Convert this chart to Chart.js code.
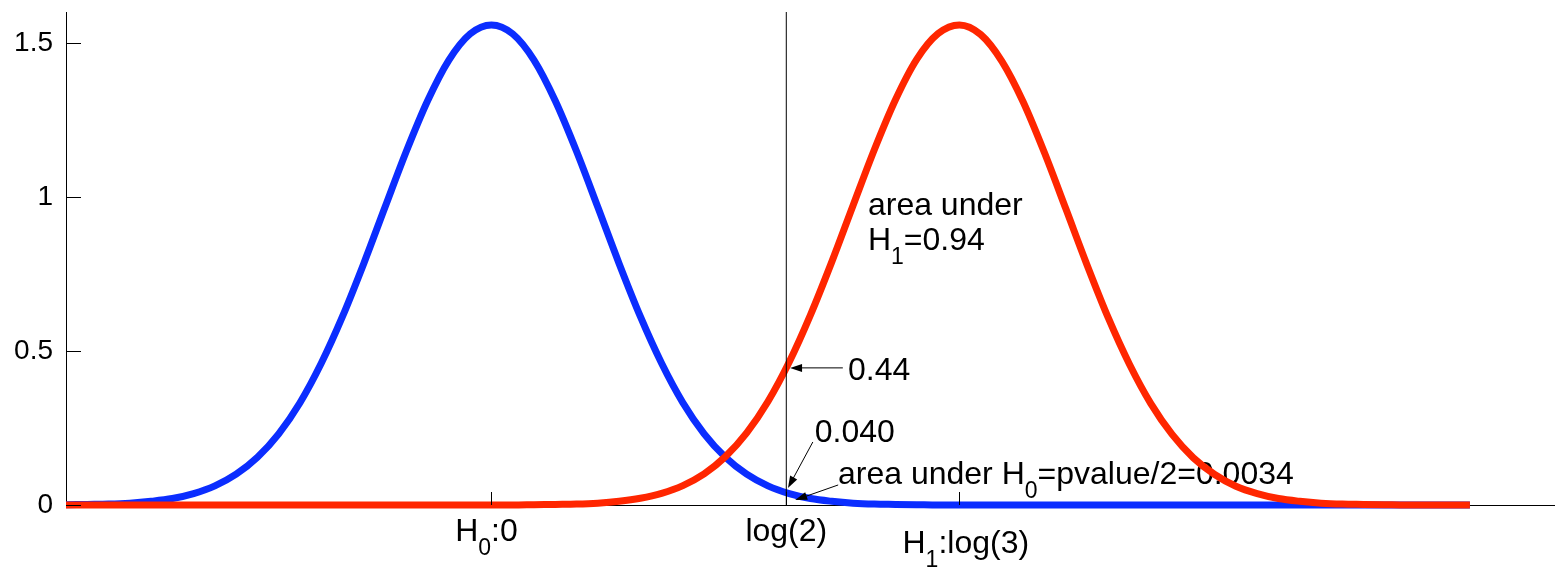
<!DOCTYPE html>
<html>
<head>
<meta charset="utf-8">
<script src="https://cdn.jsdelivr.net/npm/chart.js@4.4.1/dist/chart.umd.min.js"></script>
<style>
  html, body { margin: 0; padding: 0; background: #fff; }
</style>
</head>
<body>
<canvas id="chart" width="1555" height="569"></canvas>
<script>
// x positions of the drawn points (shared by both curves)
var xValues = [-1, -0.95, -0.9, -0.85, -0.8, -0.75, -0.7, -0.65, -0.6, -0.55,
    -0.5, -0.45, -0.4, -0.35, -0.3, -0.25, -0.2, -0.15, -0.1, -0.05,
    0, 0.05, 0.1, 0.15, 0.2, 0.25, 0.3, 0.35, 0.4, 0.45,
    0.5, 0.55, 0.6, 0.65, 0.7, 0.75, 0.8, 0.85, 0.9, 0.95,
    1, 1.05, 1.1, 1.15, 1.2, 1.25, 1.3, 1.35, 1.4, 1.45,
    1.5, 1.55, 1.6, 1.65, 1.7, 1.75, 1.8, 1.85, 1.9, 1.95,
    2, 2.05, 2.1, 2.15, 2.2, 2.25, 2.3];

// density under H0 (blue, centred on 0)
var h0Density = [0.001, 0.002, 0.003, 0.006, 0.012, 0.021, 0.037, 0.062, 0.100, 0.155,
    0.231, 0.332, 0.460, 0.612, 0.784, 0.967, 1.148, 1.312, 1.444, 1.529,
    1.558, 1.529, 1.444, 1.312, 1.148, 0.967, 0.784, 0.612, 0.460, 0.332,
    0.231, 0.155, 0.100, 0.062, 0.037, 0.021, 0.012, 0.006, 0.003, 0.002,
    0.001, 0, 0, 0, 0, 0, 0, 0, 0, 0,
    0, 0, 0, 0, 0, 0, 0, 0, 0, 0,
    0, 0, 0, 0, 0, 0, 0];

// density under H1 (red, centred on log(3))
var h1Density = [0, 0, 0, 0, 0, 0, 0, 0, 0, 0,
    0, 0, 0, 0, 0, 0, 0, 0, 0, 0,
    0, 0, 0.001, 0.002, 0.003, 0.006, 0.012, 0.022, 0.038, 0.063,
    0.101, 0.157, 0.234, 0.336, 0.464, 0.617, 0.789, 0.972, 1.153, 1.316,
    1.447, 1.530, 1.558, 1.527, 1.440, 1.308, 1.143, 0.962, 0.779, 0.607,
    0.456, 0.329, 0.229, 0.153, 0.099, 0.061, 0.037, 0.021, 0.012, 0.006,
    0.003, 0.002, 0.001, 0, 0, 0, 0];

var logTwo = 0.6931;
var xTickValues = [0, 0.6931, 1.0986];
var xTickLabels = ['H_0:0', 'log(2)', 'H_1:log(3)'];
var yTickValues = [0, 0.5, 1, 1.5];
var yTickLabels = ['0', '0.5', '1', '1.5'];

// text and arrows, in data units
var noteTexts = [
    { text: 'area under', x: 0.885, y: 0.941 },
    { text: 'H_1=0.94', x: 0.885, y: 0.828 },
    { text: '0.44', x: 0.838, y: 0.406 },
    { text: '0.040', x: 0.760, y: 0.2045 },
    { text: 'area under H_0=pvalue/2=0.0034', x: 0.8146, y: 0.068 }
];
var noteArrows = [
    { from: [0.826, 0.445], to: [0.702, 0.445] },
    { from: [0.7555, 0.2045], to: [0.697, 0.055] },
    { from: [0.815, 0.065], to: [0.714, 0.016] }
];

var FONT = '"Liberation Sans", Arial, sans-serif';

function toPoints(ys) {
    var pts = [];
    for (var i = 0; i < xValues.length; i++) {
        pts.push({ x: xValues[i], y: ys[i] });
    }
    return pts;
}

// split "H_0:0" into normal / subscript pieces
function texParts(str) {
    var parts = [];
    for (var i = 0; i < str.length; i++) {
        if (str[i] === '_' && i + 1 < str.length) {
            parts.push({ t: str[i + 1], sub: true });
            i++;
        } else {
            var last = parts[parts.length - 1];
            if (last && !last.sub) last.t += str[i];
            else parts.push({ t: str[i], sub: false });
        }
    }
    return parts;
}

function drawTex(ctx, str, x, y, size, align) {
    var parts = texParts(str);
    var subSize = Math.round(size * 0.72);
    var widths = [], total = 0;
    for (var i = 0; i < parts.length; i++) {
        ctx.font = (parts[i].sub ? subSize : size) + 'px ' + FONT;
        widths.push(ctx.measureText(parts[i].t).width);
        total += widths[i];
    }
    var cx = align === 'center' ? x - total / 2 : x;
    ctx.textAlign = 'left';
    ctx.textBaseline = 'alphabetic';
    for (var j = 0; j < parts.length; j++) {
        ctx.font = (parts[j].sub ? subSize : size) + 'px ' + FONT;
        ctx.fillText(parts[j].t, cx, parts[j].sub ? y + size * 0.45 : y);
        cx += widths[j];
    }
}

function drawArrow(ctx, x1, y1, x2, y2) {
    var ang = Math.atan2(y2 - y1, x2 - x1);
    var len = 12, half = 4;
    var c = Math.cos(ang), s = Math.sin(ang);
    ctx.beginPath();
    ctx.moveTo(x1, y1);
    ctx.lineTo(x2 - c * len * 0.8, y2 - s * len * 0.8);
    ctx.stroke();
    ctx.beginPath();
    ctx.moveTo(x2, y2);
    ctx.lineTo(x2 - c * len + s * half, y2 - s * len - c * half);
    ctx.lineTo(x2 - c * len - s * half, y2 - s * len + c * half);
    ctx.closePath();
    ctx.fill();
}

var notesPlugin = {
    id: 'notes',
    beforeDatasetsDraw: function (chart) {
        var ctx = chart.ctx, xs = chart.scales.x, ys = chart.scales.y;
        ctx.save();
        ctx.fillStyle = '#000';
        noteTexts.forEach(function (n) {
            drawTex(ctx, n.text, xs.getPixelForValue(n.x), ys.getPixelForValue(n.y), 32, 'left');
        });
        ctx.restore();
    },
    afterDraw: function (chart) {
        var ctx = chart.ctx, xs = chart.scales.x, ys = chart.scales.y;
        var area = chart.chartArea;
        ctx.save();
        ctx.strokeStyle = '#000';
        ctx.fillStyle = '#000';
        ctx.lineWidth = 1;

        // inward tick marks
        ctx.beginPath();
        yTickValues.forEach(function (v) {
            var py = Math.round(ys.getPixelForValue(v)) + 0.5;
            ctx.moveTo(area.left, py);
            ctx.lineTo(area.left + 15, py);
        });
        xTickValues.forEach(function (v) {
            var px = Math.round(xs.getPixelForValue(v)) + 0.5;
            ctx.moveTo(px, area.bottom);
            ctx.lineTo(px, area.bottom - 13);
        });
        ctx.stroke();

        // x tick labels (with subscripts)
        var nudge = [[-5, 0], [0, 0], [7, 12]];
        xTickValues.forEach(function (v, i) {
            drawTex(ctx, xTickLabels[i], xs.getPixelForValue(v) + nudge[i][0],
                area.bottom + 36 + nudge[i][1], 32, 'center');
        });

        // arrows
        noteArrows.forEach(function (a) {
            drawArrow(ctx, xs.getPixelForValue(a.from[0]), ys.getPixelForValue(a.from[1]),
                xs.getPixelForValue(a.to[0]), ys.getPixelForValue(a.to[1]));
        });
        ctx.restore();
    }
};

var ctx = document.getElementById('chart');

new Chart(ctx, {
    type: 'line',
    data: {
        datasets: [{
            // log(2) marker
            data: [{ x: logTwo, y: 0 }, { x: logTwo, y: 1.6 }],
            borderColor: '#000',
            borderWidth: 1,
            pointRadius: 0
        }, {
            data: toPoints(h1Density),
            borderColor: '#ff2600',
            borderWidth: 7,
            pointRadius: 0,
            cubicInterpolationMode: 'monotone',
            clip: false
        }, {
            data: toPoints(h0Density),
            borderColor: '#0b2dff',
            borderWidth: 7,
            pointRadius: 0,
            cubicInterpolationMode: 'monotone',
            clip: false
        }]
    },
    options: {
        responsive: false,
        animation: false,
        devicePixelRatio: 1,
        layout: { padding: { top: 12, left: 0, right: 0, bottom: 0 } },
        plugins: {
            legend: { display: false },
            tooltip: { enabled: false }
        },
        scales: {
            x: {
                type: 'linear',
                min: -1,
                max: 2.5,
                grid: { display: false, drawTicks: false },
                border: { display: true, color: '#000', width: 1 },
                ticks: { display: false },
                afterBuildTicks: function (s) {
                    s.ticks = xTickValues.map(function (v) { return { value: v }; });
                },
                afterFit: function (s) {
                    s.height = 64;
                    s.paddingLeft = 0;
                    s.paddingRight = 0;
                }
            },
            y: {
                min: 0,
                max: 1.6,
                grid: { display: false, drawTicks: false },
                border: { display: true, color: '#000', width: 1 },
                ticks: {
                    color: '#000',
                    padding: 13,
                    font: { family: FONT, size: 28 },
                    callback: function (v, i) { return yTickLabels[i]; }
                },
                afterBuildTicks: function (s) {
                    s.ticks = yTickValues.map(function (v) { return { value: v }; });
                },
                afterFit: function (s) {
                    s.width = 66;
                    s.paddingTop = 0;
                    s.paddingBottom = 0;
                }
            }
        }
    },
    plugins: [notesPlugin]
});
</script>
</body>
</html>
